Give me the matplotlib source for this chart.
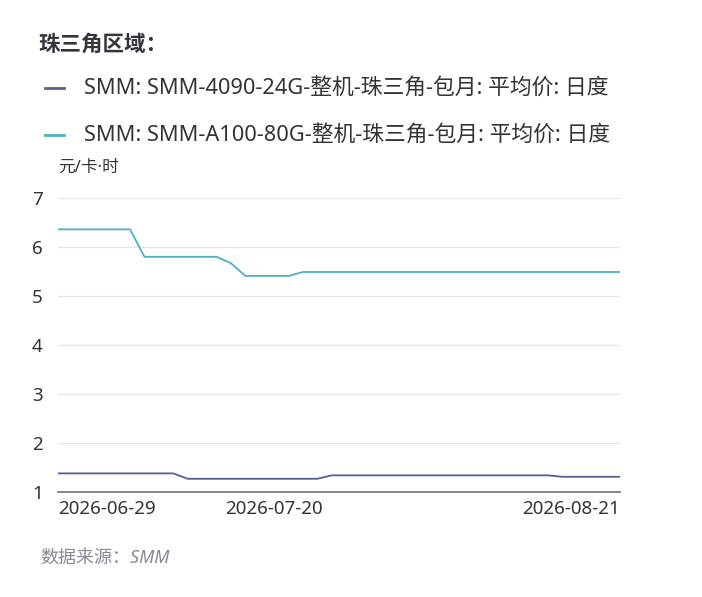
import matplotlib
matplotlib.use("Agg")
import matplotlib.pyplot as plt
import pandas as pd

plt.rcParams['font.family'] = ['Noto Sans', 'Noto Sans CJK SC', 'DejaVu Sans']

dates = pd.bdate_range('2026-06-29', '2026-08-21').strftime('%Y-%m-%d').tolist()

gpu_4090 = [1.38, 1.38, 1.38, 1.38, 1.38, 1.38, 1.38, 1.38, 1.38,
            1.27, 1.27, 1.27, 1.27, 1.27, 1.27, 1.27, 1.27, 1.27, 1.27,
            1.34, 1.34, 1.34, 1.34, 1.34, 1.34, 1.34, 1.34, 1.34, 1.34,
            1.34, 1.34, 1.34, 1.34, 1.34, 1.34,
            1.31, 1.31, 1.31, 1.31, 1.31]
gpu_a100 = [6.36, 6.36, 6.36, 6.36, 6.36, 6.36,
            5.80, 5.80, 5.80, 5.80, 5.80, 5.80,
            5.67,
            5.41, 5.41, 5.41, 5.41,
            5.49, 5.49, 5.49, 5.49, 5.49, 5.49, 5.49, 5.49, 5.49, 5.49,
            5.49, 5.49, 5.49, 5.49, 5.49, 5.49, 5.49, 5.49, 5.49, 5.49,
            5.49, 5.49, 5.49]

names = ['SMM: SMM-4090-24G-整机-珠三角-包月: 平均价: 日度',
         'SMM: SMM-A100-80G-整机-珠三角-包月: 平均价: 日度']
colors = ['#545f96', '#4cb1c7']
tick_idx = [0, 15, 39]

W, H = 702, 597
fig = plt.figure(figsize=(W / 100, H / 100), dpi=100)
ax = fig.add_axes([58 / W, (H - 492) / H, (620 - 58) / W, (492 - 198) / H])

x = list(range(len(dates)))
ax.plot(x, gpu_4090, color=colors[0], lw=1.3)
ax.plot(x, gpu_a100, color=colors[1], lw=1.3)

ax.set_xlim(0, len(dates) - 1)
ax.set_ylim(1, 7)
ax.set_yticks(range(1, 8))
ax.grid(axis='y', color='#e6e6e6', lw=1)
ax.set_axisbelow(True)
for s in ['top', 'right', 'left']:
    ax.spines[s].set_visible(False)
ax.spines['bottom'].set_color('#6e7079')
ax.spines['bottom'].set_linewidth(1.2)
ax.tick_params(length=0, labelsize=13.5, labelcolor='#333333')
ax.tick_params(axis='y', pad=11)
ax.set_xticks(tick_idx)
labels = ax.set_xticklabels([dates[i] for i in tick_idx])
labels[0].set_ha('left')
labels[-1].set_ha('right')
ax.tick_params(axis='x', pad=6)

fig.text(38 / W, 1 - 45 / H, '珠三角区域：', fontsize=15.5, fontweight='bold',
         color='#33363d', va='center')
for k, yy in enumerate([88, 135]):
    fig.add_artist(plt.Line2D([45 / W, 64 / W], [1 - yy / H, 1 - yy / H],
                              color=colors[k], lw=2))
    fig.text(84 / W, 1 - yy / H, names[k], fontsize=15.7, color='#333333',
             va='center')
fig.text(58 / W, 1 - 168 / H, '元/卡·时', fontsize=12, color='#333333', va='center')
fig.text(40 / W, 1 - 558 / H, '数据来源：SMM', fontsize=13, color='#858a94',
         style='italic', va='center')

fig.savefig('out.png', dpi=100)
